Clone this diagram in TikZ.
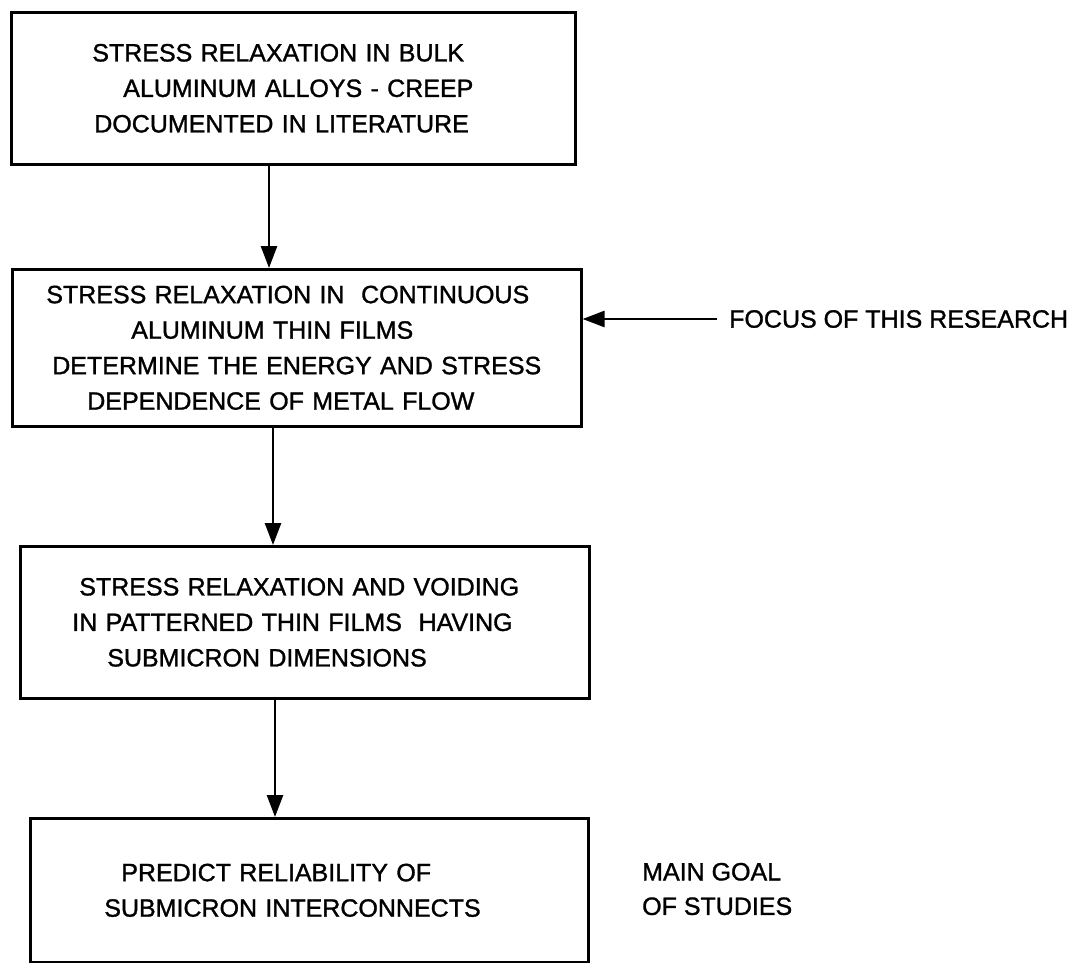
\documentclass[tikz,border=0pt]{standalone}
\usepackage{fontspec}
\setmainfont{Liberation Sans}[BoldFont={Liberation Sans},BoldFeatures={FakeBold=1.2}]
\usetikzlibrary{arrows.meta}
\begin{document}
\begin{tikzpicture}[x=1pt,y=-1pt,
  box/.style={draw, line width=2.6pt, inner xsep=0pt, inner ysep=0pt, align=left,
    font=\fontsize{25}{35.5}\selectfont\bfseries, anchor=north west},
  arr/.style={line width=2.6pt, -{Triangle[length=22pt,width=16pt]}},
  lbl/.style={font=\fontsize{25}{34.5}\selectfont\bfseries, inner sep=0pt, anchor=west, align=left}]
\useasboundingbox (0,0) rectangle (1076,963);
\node[box, text width=564pt, minimum height=152pt] (b1) at (10,11)
  {\hspace*{81pt}STRESS RELAXATION IN BULK\\\hspace*{112pt}ALUMINUM ALLOYS - CREEP\\\hspace*{83pt}DOCUMENTED IN LITERATURE};
\node[box, text width=569pt, minimum height=157pt] (b2) at (11,268)
  {\hspace*{34pt}STRESS RELAXATION IN\ \ CONTINUOUS\\\hspace*{119pt}ALUMINUM THIN FILMS\\\hspace*{40pt}DETERMINE THE ENERGY AND STRESS\\\hspace*{75pt}DEPENDENCE OF METAL FLOW};
\node[box, text width=569pt, minimum height=152pt] (b3) at (19,545)
  {\hspace*{59pt}STRESS RELAXATION AND VOIDING\\\hspace*{52pt}IN PATTERNED THIN FILMS\ \ HAVING\\\hspace*{87pt}SUBMICRON DIMENSIONS};
\node[box, text width=558pt, minimum height=144pt] (b4) at (29,817)
  {\hspace*{91pt}PREDICT RELIABILITY OF\\\hspace*{74pt}SUBMICRON INTERCONNECTS};
\coordinate (x1) at (269,0);
\coordinate (x2) at (273,0);
\coordinate (x3) at (275,0);
\draw[arr] (b1.south -| x1) -- (b2.north -| x1);
\draw[arr] (b2.south -| x2) -- (b3.north -| x2);
\draw[arr] (b3.south -| x3) -- (b4.north -| x3);
\coordinate (f) at (717,319);
\draw[arr] (f) -- (f -| b2.east);
\node[lbl] (focus) at (729,319) {FOCUS OF THIS RESEARCH};
\node[lbl] (goal) at (642,889) {MAIN GOAL\\OF STUDIES};
\end{tikzpicture}
\end{document}
